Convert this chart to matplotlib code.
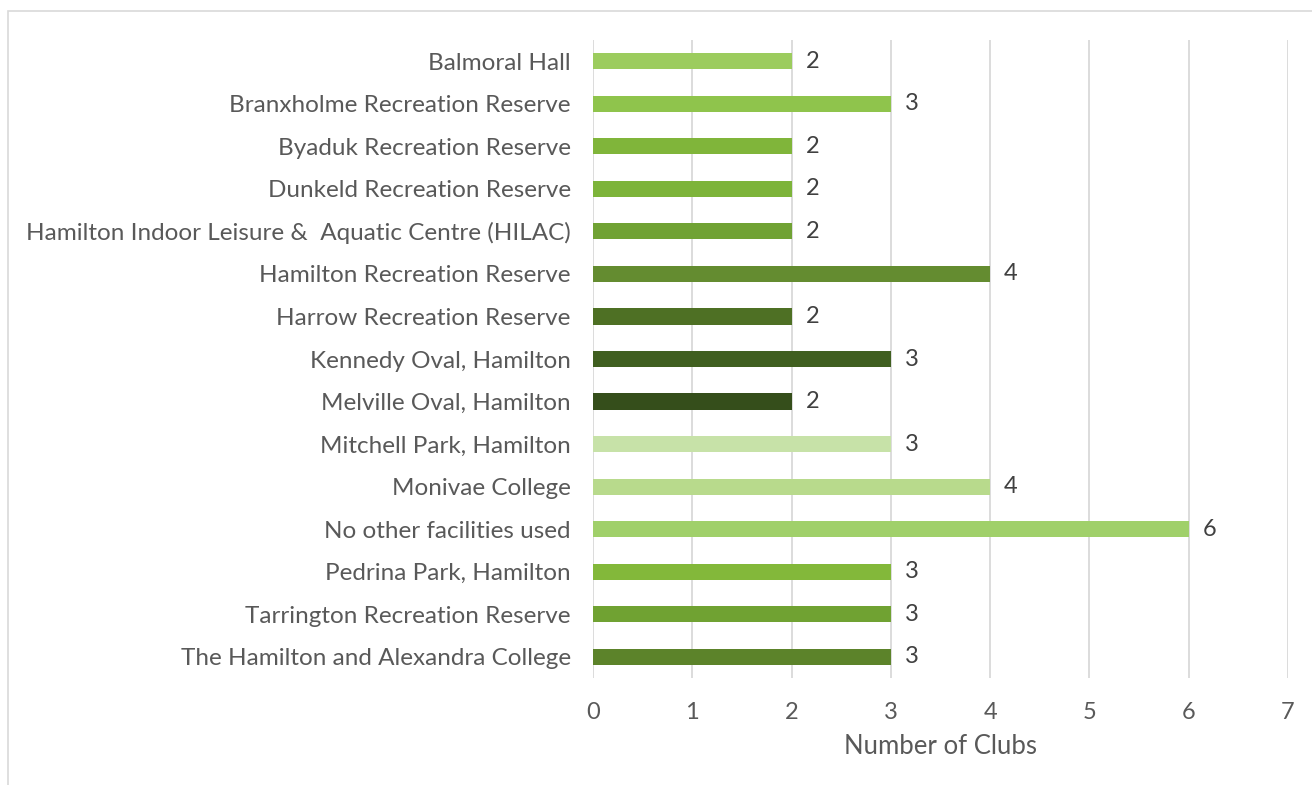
import matplotlib
matplotlib.use("Agg")
import matplotlib.pyplot as plt
from matplotlib.patches import Rectangle

# data, top to bottom as in the chart
venues = [
    "Balmoral Hall",
    "Branxholme Recreation Reserve",
    "Byaduk Recreation Reserve",
    "Dunkeld Recreation Reserve",
    "Hamilton Indoor Leisure &  Aquatic Centre (HILAC)",
    "Hamilton Recreation Reserve",
    "Harrow Recreation Reserve",
    "Kennedy Oval, Hamilton",
    "Melville Oval, Hamilton",
    "Mitchell Park, Hamilton",
    "Monivae College",
    "No other facilities used",
    "Pedrina Park, Hamilton",
    "Tarrington Recreation Reserve",
    "The Hamilton and Alexandra College",
]
clubs = [2, 3, 2, 2, 2, 4, 2, 3, 2, 3, 4, 6, 3, 3, 3]
bar_colors = [
    "#9ccc5e", "#8fc44c", "#80b53a", "#7db43a", "#70a234",
    "#648c30", "#4e7024", "#405f20", "#354e1b", "#c7e2a8",
    "#b8da8c", "#a0d06a", "#83b83a", "#70a232", "#5c832a",
]
xticks = [0, 1, 2, 3, 4, 5, 6, 7]

plt.rcParams['font.family'] = ['Lato', 'DejaVu Sans']

fig = plt.figure(figsize=(13.12, 7.85), dpi=100)
# light grey frame around the chart area
fig.patches.append(Rectangle((8 / 1312, -0.01), 1.0, 1 - 11 / 785 + 0.01,
                             transform=fig.transFigure, fill=False,
                             edgecolor="#d9d9d9", linewidth=1.2))

ax = fig.add_axes([593 / 1312, 1 - 678 / 785, (1288 - 593) / 1312, (678 - 40) / 785])

ypos = list(range(len(venues)))
ax.barh(ypos, clubs, height=0.38, color=bar_colors, zorder=3)
for y, v in zip(ypos, clubs):
    ax.text(v + 0.14, y, str(v), va="center", ha="left", fontsize=17, color="#404040")

ax.set_ylim(len(venues) - 0.5, -0.5)
ax.set_xlim(0, 7)
ax.set_xticks(xticks)
ax.set_yticks(ypos)
ax.set_yticklabels(venues)
ax.tick_params(axis="y", length=0, pad=16, labelsize=17.5, labelcolor="#595959")
ax.tick_params(axis="x", length=0, pad=17, labelsize=17, labelcolor="#595959")
ax.grid(axis="x", color="#d9d9d9", linewidth=1.3, zorder=0)
for s in ax.spines.values():
    s.set_visible(False)
ax.set_xlabel("Number of Clubs", fontsize=18.5, color="#595959", labelpad=8)

fig.savefig("out.png", dpi=100)
